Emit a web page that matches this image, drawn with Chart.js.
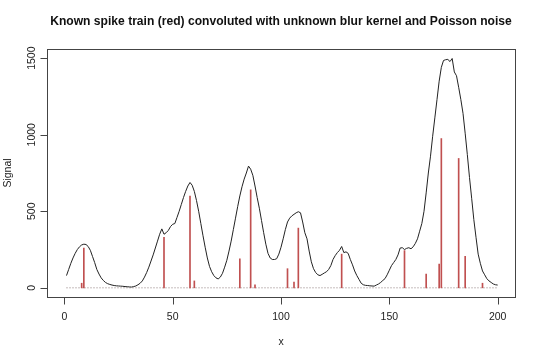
<!DOCTYPE html>
<html>
<head>
<meta charset="utf-8">
<script src="https://cdn.jsdelivr.net/npm/chart.js@4.4.1/dist/chart.umd.min.js"></script>
<style>
html,body{margin:0;padding:0;background:#fff;}
#wrap{width:540px;height:359px;position:relative;}
</style>
</head>
<body>
<div id="wrap"><canvas id="c" width="540" height="359"></canvas></div>
<script>
const chartTitle = "Known spike train (red) convoluted with unknown blur kernel and Poisson noise";
const xLabel = "x";
const yLabel = "Signal";
const xTicks = [0, 50, 100, 150, 200];
const yTicks = [0, 500, 1000, 1500];

// observed (blurred + noisy) signal at x = 1..200
const signal = [
  80,120,160,195,225,250,268,280,285,283,
  270,245,205,165,120,90,65,48,35,27,
  22,18,15,13,12,11,10,8,7,6,
  5,8,12,20,30,45,70,100,135,175,
  215,260,305,350,385,350,360,375,400,415,
  420,460,500,545,590,630,665,688,670,630,
  570,500,420,340,265,195,140,105,80,65,
  58,70,95,135,180,240,305,380,455,530,
  600,660,710,750,795,775,735,665,590,520,
  440,360,285,225,195,185,185,190,220,265,
  320,380,430,455,470,480,490,497,490,430,
  360,320,240,170,125,100,85,80,88,97,
  105,120,145,185,210,230,245,270,230,235,
  225,185,150,110,80,55,30,20,16,15,
  13,12,11,18,25,35,48,60,85,115,
  145,165,185,215,260,262,250,258,262,255,
  268,290,320,370,420,500,620,750,860,990,
  1110,1230,1350,1440,1485,1490,1492,1478,1498,1410,
  1385,1310,1230,1140,1010,870,720,585,445,330,
  220,160,110,85,60,45,35,25,20,18
];

// known spike train (non-zero entries)
const spikeX = [8, 9, 46, 58, 60, 81, 86, 88, 103, 106, 108, 128, 157, 167, 173, 174, 182, 185, 193];
const spikeH = [30, 260, 330, 600, 45, 190, 640, 20, 125, 37, 390, 220, 243, 90, 155, 975, 845, 205, 30];

const xs = signal.map((_, i) => i + 1);
const signalPts = xs.map((x, i) => ({x: x, y: signal[i]}));
const spikePts = spikeX.map((x, i) => ({x: x, y: spikeH[i]}));
// zero entries of the spike train (drawn as the dotted baseline)
const baselinePts = xs.map(x => ({x: x, y: 0}));

const FONT = "'Liberation Sans', Arial, Helvetica, sans-serif";
const TXT = '#222';
const AXIS = '#444';

const rPlugin = {
  id: 'rStyle',
  afterDraw(chart) {
    const ctx = chart.ctx;
    const a = chart.chartArea;
    const xsc = chart.scales.x, ysc = chart.scales.y;
    ctx.save();
    ctx.setLineDash([]);
    ctx.strokeStyle = AXIS;
    ctx.lineWidth = 1;
    // box
    const L = Math.round(a.left) + 0.5, T = Math.round(a.top) + 0.5;
    const R = Math.round(a.right) + 0.5, B = Math.round(a.bottom) + 0.5;
    ctx.strokeRect(L, T, R - L, B - T);
    // tick marks
    xTicks.forEach(v => {
      const px = Math.round(xsc.getPixelForValue(v)) + 0.5;
      ctx.beginPath();
      ctx.moveTo(px, B);
      ctx.lineTo(px, B + 7);
      ctx.stroke();
    });
    yTicks.forEach(v => {
      const py = Math.round(ysc.getPixelForValue(v)) + 0.5;
      ctx.beginPath();
      ctx.moveTo(L, py);
      ctx.lineTo(L - 7, py);
      ctx.stroke();
    });
    // title
    ctx.fillStyle = '#111';
    ctx.font = "bold 12.1px " + FONT;
    ctx.textAlign = 'center';
    ctx.textBaseline = 'middle';
    ctx.fillText(chartTitle, (a.left + a.right) / 2, 22);
    // rotated y tick labels (R style)
    ctx.font = "10.5px " + FONT;
    ctx.fillStyle = TXT;
    yTicks.forEach(v => {
      const py = ysc.getPixelForValue(v);
      ctx.save();
      ctx.translate(32, py);
      ctx.rotate(-Math.PI / 2);
      ctx.fillText(String(v), 0, 0);
      ctx.restore();
    });
    ctx.restore();
  }
};

new Chart(document.getElementById('c'), {
  data: {
    datasets: [
      {
        type: 'line',
        label: 'spike baseline',
        data: baselinePts,
        borderColor: '#8a7a7a',
        borderWidth: 1,
        borderDash: [1, 2],
        pointRadius: 0,
        order: 3
      },
      {
        type: 'bar',
        label: 'spike train',
        data: spikePts,
        backgroundColor: '#c05050',
        borderWidth: 0,
        barThickness: 1,
        order: 2
      },
      {
        type: 'line',
        label: 'signal',
        data: signalPts,
        borderColor: '#222',
        borderWidth: 1,
        pointRadius: 0,
        tension: 0,
        order: 1
      }
    ]
  },
  options: {
    responsive: false,
    animation: false,
    layout: {padding: {top: 49, right: 25, left: 0, bottom: 0}},
    plugins: {legend: {display: false}, tooltip: {enabled: false}, title: {display: false}},
    scales: {
      x: {
        type: 'linear',
        min: -8, max: 208,
        offset: false,
        afterBuildTicks: s => { s.ticks = xTicks.map(v => ({value: v})); },
        afterFit: s => { s.height = 62; },
        grid: {display: false},
        border: {display: false},
        ticks: {color: TXT, font: {family: FONT, size: 10.5}, padding: 6, maxRotation: 0, autoSkip: false},
        title: {display: true, text: xLabel, color: TXT, font: {family: FONT, size: 10.5}, padding: {top: 0, bottom: 11}}
      },
      y: {
        type: 'linear',
        min: -60, max: 1560,
        afterBuildTicks: s => { s.ticks = yTicks.map(v => ({value: v})); },
        afterFit: s => { s.width = 47; },
        grid: {display: false},
        border: {display: false},
        ticks: {display: false},
        title: {display: true, text: yLabel, color: TXT, font: {family: FONT, size: 10.5}, padding: {top: 2, bottom: 0}}
      }
    }
  },
  plugins: [rPlugin]
});
</script>
</body>
</html>
